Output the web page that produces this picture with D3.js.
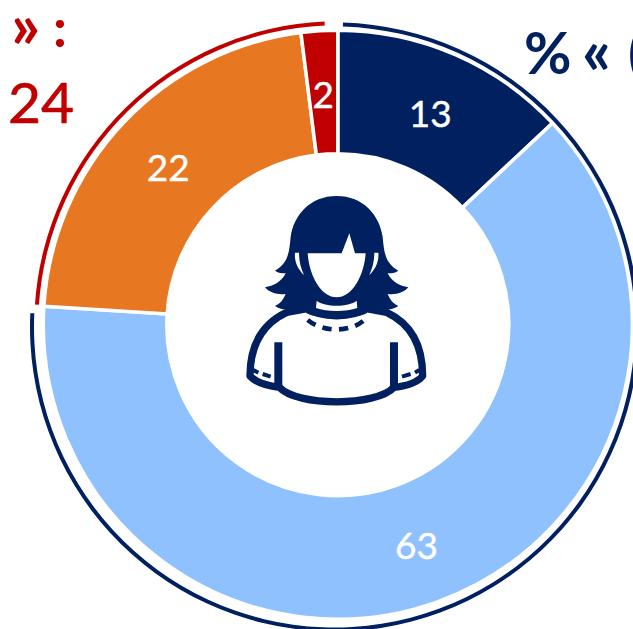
<!DOCTYPE html>
<html><head><meta charset="utf-8">
<script src="https://cdn.jsdelivr.net/npm/d3@7"></script>
<style>html,body{margin:0;padding:0;background:#fff;overflow:hidden}svg{display:block}text{font-family:Lato,"Open Sans",sans-serif}</style>
</head><body><div id="chart"></div>
<script>
const categories = ["navy", "light", "orange", "red"];
const values = [13, 63, 22, 2];
const sliceColors = ["#002060", "#8FC1FF", "#E87722", "#C00000"];
const groupValues = [76, 24];
const groupColors = ["#002060", "#C00000"];
const groupLabels = [["%", "«", "("], ["»", ":", "24"]];

const W = 633, H = 629, cx = 337.8, cy = 324.7;
const svg = d3.select("#chart").append("svg").attr("width", W).attr("height", H);
const g = svg.append("g").attr("transform", `translate(${cx},${cy})`);

const pie = d3.pie().sort(null);
const arc = d3.arc().innerRadius(171).outerRadius(294.5);
const labelArc = d3.arc().innerRadius(172).outerRadius(293);
const slices = pie(values);
g.selectAll("path.slice").data(slices).join("path")
  .attr("class", "slice").attr("d", arc)
  .attr("fill", (d, i) => sliceColors[i])
  .attr("stroke", "#fff").attr("stroke-width", 3.5);
g.selectAll("text.val").data(slices).join("text")
  .attr("class", "val")
  .attr("x", d => labelArc.centroid(d)[0]).attr("y", d => labelArc.centroid(d)[1] + 2)
  .attr("text-anchor", "middle").attr("dy", "0.36em")
  .attr("fill", "#fff").attr("stroke", "#fff").attr("stroke-width", 0.4).attr("font-size", 37)
  .text(d => d.value);

const rad = Math.PI / 180;
const groups = pie(groupValues);
// navy outline sits slightly off-centre from the ring in the reference
svg.append("path").attr("transform", "translate(334.5,327)")
  .attr("d", d3.arc().innerRadius(300.5).outerRadius(304.5)({startAngle: groups[0].startAngle + 1.6 * rad, endAngle: groups[0].endAngle - 1 * rad}))
  .attr("fill", groupColors[0]);
g.append("path")
  .attr("d", d3.arc().innerRadius(299.5).outerRadius(303.5)({startAngle: groups[1].startAngle + 0.2 * rad, endAngle: groups[1].endAngle - 2.5 * rad}))
  .attr("fill", groupColors[1]);

const t = svg.append("g").attr("font-weight", 700);
t.append("text").attr("x", 524).attr("y", 74).attr("fill", groupColors[0]).attr("font-size", 58).text(groupLabels[0][0]);
t.append("text").attr("x", 582).attr("y", 74).attr("fill", groupColors[0]).attr("font-size", 64).text(groupLabels[0][1]);
t.append("text").attr("x", 628).attr("y", 74).attr("fill", groupColors[0]).attr("font-size", 60).text(groupLabels[0][2]);
t.append("text").attr("x", 11).attr("y", 48).attr("fill", groupColors[1]).attr("font-size", 64).text(groupLabels[1][0]);
t.append("text").attr("x", 53).attr("y", 47).attr("fill", groupColors[1]).attr("font-size", 54).text(groupLabels[1][1]);
t.append("text").attr("x", 8).attr("y", 123).attr("fill", groupColors[1]).attr("font-weight", 400).attr("stroke", groupColors[1]).attr("stroke-width", 0.6).attr("font-size", 57).text(groupLabels[1][2]);

// person icon
const navy = "#002060";
const ic = svg.append("g").attr("transform", "translate(220,180) scale(0.3333)");
ic.append("path").attr("fill", navy).attr("d", "M350,48 C270,48 222,105 212,170 C208,215 205,250 165,272 C175,280 185,280 197,280 C185,305 160,318 135,322 C150,340 175,345 197,342 C190,360 180,372 165,378 C175,385 185,388 197,388 L240,410 L460,410 L503,388 C515,388 525,385 535,378 C520,372 510,360 503,342 C525,345 550,340 565,322 C540,318 515,305 503,280 C515,280 525,280 535,272 C495,250 492,215 488,170 C478,105 430,48 350,48 Z");
ic.append("path").attr("fill", "#fff").attr("d", "M263,220 L365,220 L388,160 L405,220 L437,220 C432,290 395,352 350,352 C305,352 268,290 263,220 Z");
ic.append("path").attr("fill", "#fff").attr("d", "M225,218 L237,218 C237,245 243,265 252,285 C235,270 222,245 225,218 Z");
ic.append("path").attr("fill", "#fff").attr("d", "M475,218 L463,218 C463,245 457,265 448,285 C465,270 478,245 475,218 Z");
ic.append("path").attr("fill", "#fff").attr("stroke", navy).attr("stroke-width", 22).attr("stroke-linejoin", "round")
  .attr("d", "M200,397 C130,430 90,490 90,588 C110,610 140,618 178,622 C230,680 470,680 522,622 C560,618 590,610 608,588 C608,490 570,430 500,397 L435,385 C400,415 300,415 265,385 Z");
ic.append("path").attr("fill", navy).attr("d", "M250,385 L450,385 L440,400 C400,420 300,420 260,400 Z");
ic.append("path").attr("fill", "#fff").attr("d", "M290,362 C315,382 385,382 410,362 L412,384 C380,396 320,396 288,384 Z");
ic.append("path").attr("fill", "none").attr("stroke", navy).attr("stroke-width", 14).attr("stroke-dasharray", "28 22")
  .attr("d", "M263,420 C310,458 390,458 433,420");
ic.append("path").attr("fill", "none").attr("stroke", navy).attr("stroke-width", 24).attr("d", "M175,487 L175,625 M522,487 L522,625");
ic.append("path").attr("fill", "none").attr("stroke", navy).attr("stroke-width", 12).attr("d", "M100,570 L115,578 M128,582 L152,590 M598,570 L585,578 M572,582 L546,590");
</script></body></html>
